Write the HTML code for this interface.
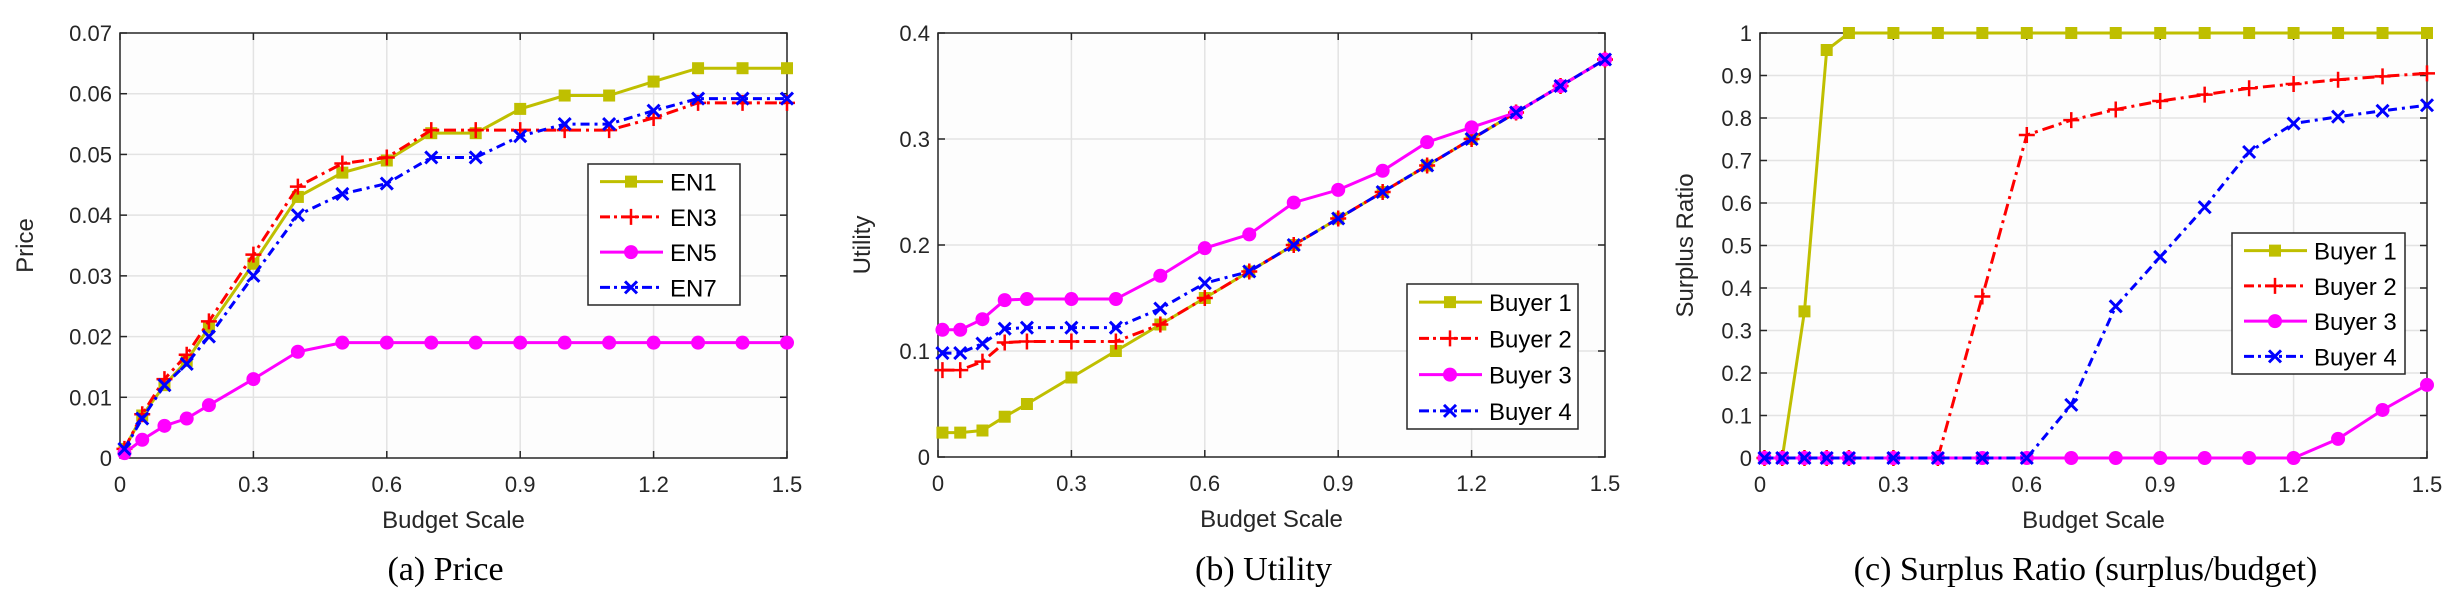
<!DOCTYPE html>
<html><head><meta charset="utf-8"><style>
html,body{margin:0;padding:0;background:#fff;}
svg{display:block;font-family:"Liberation Sans",sans-serif;}
</style></head><body>
<svg id="fig" width="2457" height="603" viewBox="0 0 2457 603" xmlns="http://www.w3.org/2000/svg"></svg>
<script>
const xVals = [0.01,0.05,0.1,0.15,0.2,0.3,0.4,0.5,0.6,0.7,0.8,0.9,1.0,1.1,1.2,1.3,1.4,1.5];
const xTicks = [0,0.3,0.6,0.9,1.2,1.5];
const xTickLabels = ["0","0.3","0.6","0.9","1.2","1.5"];

const priceEN1 = [.0015,.007,.012,.016,.0215,.032,.043,.047,.049,.0535,.0535,.0575,.0597,.0597,.062,.0642,.0642,.0642];
const priceEN3 = [.0015,.0072,.013,.017,.0225,.0335,.0447,.0485,.0495,.054,.054,.054,.054,.054,.056,.0585,.0585,.0585];
const priceEN5 = [.0008,.003,.0053,.0065,.0087,.013,.0175,.019,.019,.019,.019,.019,.019,.019,.019,.019,.019,.019];
const priceEN7 = [.0015,.0065,.012,.0155,.02,.03,.04,.0435,.0452,.0495,.0495,.053,.055,.055,.0572,.0592,.0592,.0592];
const priceTicks = [0,0.01,0.02,0.03,0.04,0.05,0.06,0.07];
const priceTickLabels = ["0","0.01","0.02","0.03","0.04","0.05","0.06","0.07"];

const utilB1 = [.023,.023,.025,.038,.05,.075,.1,.125,.15,.175,.2,.225,.25,.275,.3,.325,.35,.375];
const utilB2 = [.082,.082,.09,.108,.109,.109,.109,.125,.15,.175,.2,.225,.25,.275,.3,.325,.35,.375];
const utilB3 = [.12,.12,.13,.148,.149,.149,.149,.171,.197,.21,.24,.252,.27,.297,.311,.325,.35,.375];
const utilB4 = [.098,.098,.107,.121,.122,.122,.122,.14,.164,.175,.2,.225,.25,.275,.3,.325,.35,.375];
const utilTicks = [0,0.1,0.2,0.3,0.4];
const utilTickLabels = ["0","0.1","0.2","0.3","0.4"];

const surB1 = [0,0,.345,.96,1,1,1,1,1,1,1,1,1,1,1,1,1,1];
const surB2 = [0,0,0,0,0,0,0,.38,.76,.795,.82,.84,.855,.87,.88,.89,.898,.905];
const surB3 = [0,0,0,0,0,0,0,0,0,0,0,0,0,0,0,.045,.113,.172];
const surB4 = [0,0,0,0,0,0,0,0,0,.125,.357,.473,.59,.72,.787,.803,.817,.83];
const surTicks = [0,0.1,0.2,0.3,0.4,0.5,0.6,0.7,0.8,0.9,1];
const surTickLabels = ["0","0.1","0.2","0.3","0.4","0.5","0.6","0.7","0.8","0.9","1"];

const NS="http://www.w3.org/2000/svg";
const svg=document.getElementById('fig');
function mk(tag,attrs,parent){const e=document.createElementNS(NS,tag);for(const k in attrs)e.setAttribute(k,attrs[k]);(parent||svg).appendChild(e);return e;}

const STY={
 y:{color:"#bfbf00",dash:"",marker:"square"},
 r:{color:"#ff0000",dash:"12 5 3 5",marker:"plus"},
 m:{color:"#ff00ff",dash:"",marker:"circle"},
 b:{color:"#0000ff",dash:"9 5 3 5",marker:"x"}
};
function marker(g,type,x,y,color){
  let e;
  if(type==="square"){e=mk('rect',{x:x-6,y:y-6,width:12,height:12,fill:color},g);}
  else if(type==="circle"){e=mk('circle',{cx:x,cy:y,r:7,fill:color},g);}
  else if(type==="plus"){e=mk('path',{d:`M${x-8},${y}H${x+8}M${x},${y-8}V${y+8}`,stroke:color,'stroke-width':2.5,fill:'none'},g);}
  else {e=mk('path',{d:`M${x-6},${y-6}L${x+6},${y+6}M${x-6},${y+6}L${x+6},${y-6}`,stroke:color,'stroke-width':3,fill:'none'},g);}
  
  
}

function chart(cfg){
  const {L,R,T,B,ymax,yT,yTL,series,names,ytitle,caption,leg,id}=cfg;
  const g=mk('g',{});
  
  
  const sx=v=>L+(v/1.5)*(R-L);
  const sy=v=>B-(v/ymax)*(B-T);
  mk('rect',{x:L,y:T,width:R-L,height:B-T,fill:'#fdfdfd'},g);
  xTicks.forEach((t,i)=>{const x=sx(t);
    if(i>0&&i<xTicks.length-1){const l=mk('line',{x1:x,x2:x,y1:T,y2:B,stroke:'#e3e3e3','stroke-width':1.5},g);}
    mk('line',{x1:x,x2:x,y1:B,y2:B-7,stroke:'#262626','stroke-width':1.5},g);
    mk('line',{x1:x,x2:x,y1:T,y2:T+7,stroke:'#262626','stroke-width':1.5},g);
    const tx=mk('text',{x:x,y:B+34,'text-anchor':'middle','font-size':22,fill:'#262626'},g);tx.textContent=xTickLabels[i];
    
  });
  yT.forEach((t,i)=>{const y=sy(t);
    if(i>0&&i<yT.length-1){const l=mk('line',{x1:L,x2:R,y1:y,y2:y,stroke:'#e3e3e3','stroke-width':1.5},g);}
    mk('line',{x1:L,x2:L+7,y1:y,y2:y,stroke:'#262626','stroke-width':1.5},g);
    mk('line',{x1:R,x2:R-7,y1:y,y2:y,stroke:'#262626','stroke-width':1.5},g);
    const tx=mk('text',{x:L-8,y:y+8,'text-anchor':'end','font-size':22,fill:'#262626'},g);tx.textContent=yTL[i];
    
  });
  const ax=mk('rect',{x:L,y:T,width:R-L,height:B-T,fill:'none',stroke:'#262626','stroke-width':1.5},g);
  
  series.forEach(([data,st],si)=>{
    const s=STY[st];
    const sg=mk('g',{},g);
    
    
    const pts=data.map((v,i)=>sx(xVals[i])+','+sy(v)).join(' ');
    const pl=mk('polyline',{points:pts,fill:'none',stroke:s.color,'stroke-width':3,'stroke-dasharray':s.dash},sg);
    
    data.forEach((v,i)=>marker(sg,s.marker,sx(xVals[i]),sy(v),s.color));
  });
  const xt=mk('text',{x:(L+R)/2,y:B+70,'text-anchor':'middle','font-size':24,fill:'#262626'},g);xt.textContent='Budget Scale';
  
  const yt=mk('text',{x:0,y:0,'text-anchor':'middle','font-size':24,fill:'#262626',transform:`translate(${cfg.ytx},${(T+B)/2}) rotate(-90)`},g);yt.textContent=ytitle;
  
  const cp=mk('text',{x:(L+R)/2-8,y:580,'text-anchor':'middle','font-size':34,fill:'#000','font-family':'Liberation Serif, serif'},g);cp.textContent=caption;
  
  const lg=mk('g',{},g);
  
  mk('rect',{x:leg.x,y:leg.y,width:leg.w,height:leg.h,fill:'#fff',stroke:'#262626','stroke-width':1.5},lg);
  const rh=leg.h/4;
  series.forEach(([d,st],si)=>{
    const s=STY[st];const yy=leg.y+rh*(si+0.5);
    const eg=mk('g',{},lg);
    
    mk('line',{x1:leg.x+12,x2:leg.x+75,y1:yy,y2:yy,stroke:s.color,'stroke-width':3,'stroke-dasharray':s.dash?"10 4 3 4":""},eg);
    marker(eg,s.marker,leg.x+43,yy,s.color);
    const t=mk('text',{x:leg.x+82,y:yy+9,'font-size':24,fill:'#000'},eg);t.textContent=names[si];
  });
}

chart({id:'price-chart',L:120,R:787,T:33,B:458,ymax:0.07,yT:priceTicks,yTL:priceTickLabels,ytx:33,
  series:[[priceEN1,'y'],[priceEN3,'r'],[priceEN5,'m'],[priceEN7,'b']],names:['EN1','EN3','EN5','EN7'],
  ytitle:'Price',caption:'(a)  Price',leg:{x:588,y:164,w:152,h:141}});
chart({id:'utility-chart',L:938,R:1605,T:33,B:457,ymax:0.4,yT:utilTicks,yTL:utilTickLabels,ytx:870,
  series:[[utilB1,'y'],[utilB2,'r'],[utilB3,'m'],[utilB4,'b']],names:['Buyer 1','Buyer 2','Buyer 3','Buyer 4'],
  ytitle:'Utility',caption:'(b)  Utility',leg:{x:1407,y:284,w:171,h:145}});
chart({id:'surplus-ratio-chart',L:1760,R:2427,T:33,B:458,ymax:1,yT:surTicks,yTL:surTickLabels,ytx:1693,
  series:[[surB1,'y'],[surB2,'r'],[surB3,'m'],[surB4,'b']],names:['Buyer 1','Buyer 2','Buyer 3','Buyer 4'],
  ytitle:'Surplus Ratio',caption:'(c)  Surplus Ratio (surplus/budget)',leg:{x:2232,y:233,w:173,h:141}});
</script>
</body></html>
